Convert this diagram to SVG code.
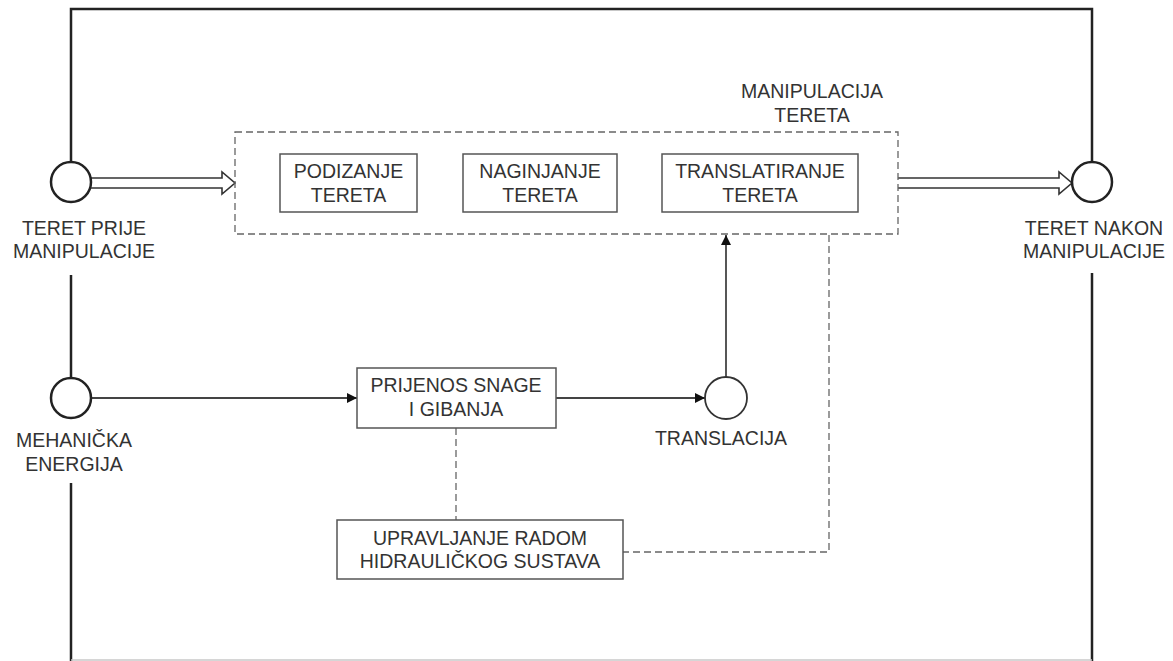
<svg xmlns="http://www.w3.org/2000/svg" width="1173" height="661" viewBox="0 0 1173 661">
<style>
text{font-family:"Liberation Sans",Arial,sans-serif;font-size:19.5px;fill:#333;text-anchor:middle}
.frame{stroke:#222;stroke-width:2.5;fill:none}
.box{fill:#fff;stroke:#555;stroke-width:1.5}
.dash{fill:none;stroke:#666;stroke-width:1.3;stroke-dasharray:7,4}
.circ{fill:#fff;stroke:#222;stroke-width:2.5}
.circ2{fill:#fff;stroke:#333;stroke-width:1.8}
.line{stroke:#444;stroke-width:1.8;fill:none}
.hollow{fill:#fff;stroke:#333;stroke-width:1.6;stroke-linejoin:miter}
</style>
<defs>
<marker id="tri" viewBox="0 0 10 10" refX="10" refY="5" markerWidth="12" markerHeight="10" markerUnits="userSpaceOnUse" orient="auto">
<path d="M0,0 L10,5 L0,10 z" fill="#111"/>
</marker>
</defs>
<g id="connectors">
<path class="frame" d="M71,162 V9 H1092 V162"/>
<path class="frame" d="M71,275 V378"/>
<path class="frame" d="M71,483 V661"/>
<path class="frame" d="M1092,273 V661"/>
<line x1="71" y1="660" x2="1092" y2="660" stroke="#c8c8c8" stroke-width="1.5"/>
<path class="hollow" d="M88,178 H222 V172 L235,183 L222,194 V188 H88"/>
<path class="hollow" d="M898,178 H1059 V172 L1072,183 L1059,194 V188 H898"/>
<line class="line" x1="91" y1="398" x2="357" y2="398" marker-end="url(#tri)"/>
<line class="line" x1="556" y1="398" x2="705" y2="398" marker-end="url(#tri)"/>
<line class="line" x1="726" y1="377" x2="726" y2="235" marker-end="url(#tri)"/>
<path class="dash" d="M456,428 V520"/>
<path class="dash" d="M829,235 V552 H623"/>
</g>
<g id="manipulacija-tereta">
<rect class="dash" x="235" y="132" width="663" height="102"/>
<text x="812" y="98">MANIPULACIJA</text>
<text x="812" y="122">TERETA</text>
</g>
<g id="podizanje">
<rect class="box" x="280" y="154" width="137" height="58"/>
<text x="348.5" y="178">PODIZANJE</text>
<text x="348.5" y="202">TERETA</text>
</g>
<g id="naginjanje">
<rect class="box" x="463" y="154" width="154" height="58"/>
<text x="540" y="178">NAGINJANJE</text>
<text x="540" y="202">TERETA</text>
</g>
<g id="translatiranje">
<rect class="box" x="662" y="154" width="196" height="58"/>
<text x="760" y="178">TRANSLATIRANJE</text>
<text x="760" y="202">TERETA</text>
</g>
<g id="teret-prije">
<circle class="circ" cx="71" cy="182" r="20"/>
<text x="84" y="235">TERET PRIJE</text>
<text x="84" y="258">MANIPULACIJE</text>
</g>
<g id="teret-nakon">
<circle class="circ" cx="1092" cy="182" r="20"/>
<text x="1094" y="235">TERET NAKON</text>
<text x="1094" y="258">MANIPULACIJE</text>
</g>
<g id="mehanicka-energija">
<circle class="circ" cx="71" cy="398" r="20"/>
<text x="74" y="447">MEHANIČKA</text>
<text x="74" y="471">ENERGIJA</text>
</g>
<g id="prijenos">
<rect class="box" x="357" y="368" width="199" height="60"/>
<text x="456" y="392">PRIJENOS SNAGE</text>
<text x="456" y="416">I GIBANJA</text>
</g>
<g id="translacija">
<circle class="circ2" cx="726" cy="398" r="21"/>
<text x="721" y="445">TRANSLACIJA</text>
</g>
<g id="upravljanje">
<rect class="box" x="337" y="520" width="286" height="59"/>
<text x="480" y="545">UPRAVLJANJE RADOM</text>
<text x="480" y="568">HIDRAULIČKOG SUSTAVA</text>
</g>
</svg>
